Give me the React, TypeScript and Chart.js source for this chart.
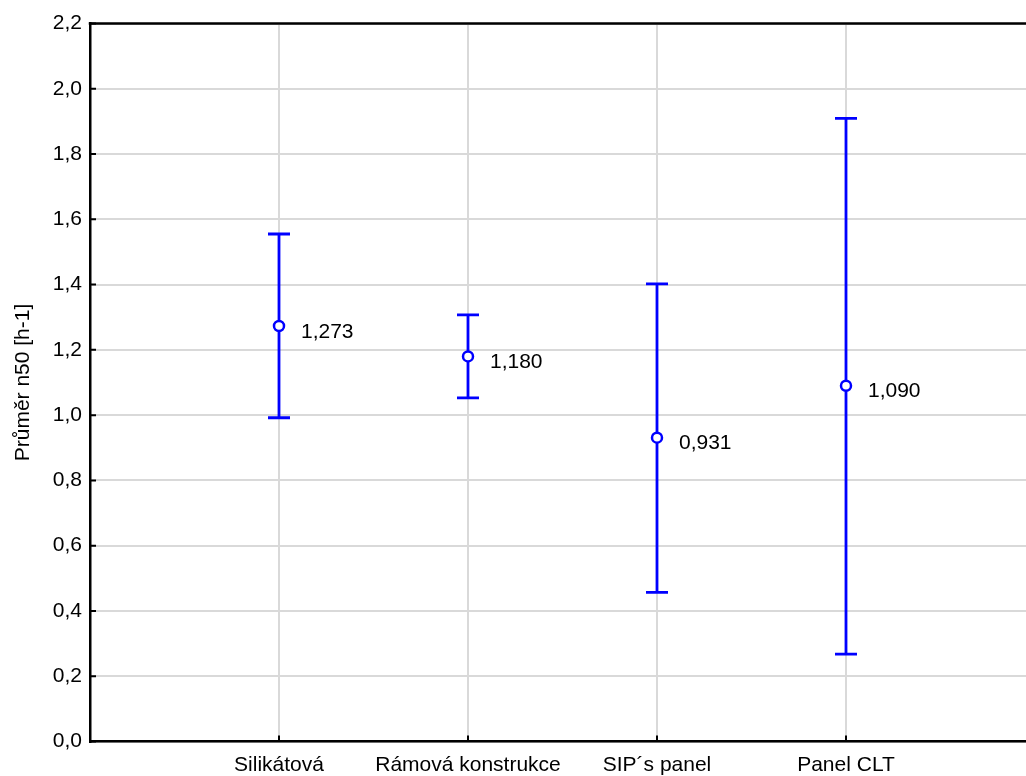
import React, { useEffect, useRef } from "react";
import { Chart, registerables } from "chart.js";

Chart.register(...registerables);

// ---- data ----
const categories = ["Silikátová", "Rámová konstrukce", "SIP´s panel", "Panel CLT"];
const means = [1.273, 1.18, 0.931, 1.09];
const lowerBounds = [0.992, 1.053, 0.457, 0.268];
const upperBounds = [1.555, 1.307, 1.402, 1.909];
const meanLabels = ["1,273", "1,180", "0,931", "1,090"];
const yTickValues = [0, 0.2, 0.4, 0.6, 0.8, 1.0, 1.2, 1.4, 1.6, 1.8, 2.0, 2.2];
const yTickLabels = ["0,0", "0,2", "0,4", "0,6", "0,8", "1,0", "1,2", "1,4", "1,6", "1,8", "2,0", "2,2"];
const yAxisTitle = "Průměr n50 [h-1]";

const BLUE = "#0000ff";
const FONT = "'Liberation Sans', Arial, sans-serif";

const overlayPlugin = {
  id: "overlay",
  beforeDatasetsDraw(chart: any) {
    const ctx = chart.ctx;
    const x = chart.scales.x;
    const y = chart.scales.y;
    ctx.save();
    ctx.strokeStyle = BLUE;
    ctx.lineWidth = 2.8;
    for (let i = 0; i < categories.length; i++) {
      const px = x.getPixelForValue(i + 1);
      const pLo = y.getPixelForValue(lowerBounds[i]);
      const pHi = y.getPixelForValue(upperBounds[i]);
      ctx.beginPath();
      ctx.moveTo(px, pLo);
      ctx.lineTo(px, pHi);
      ctx.moveTo(px - 11, pLo);
      ctx.lineTo(px + 11, pLo);
      ctx.moveTo(px - 11, pHi);
      ctx.lineTo(px + 11, pHi);
      ctx.stroke();
    }
    ctx.restore();
  },
  afterDatasetsDraw(chart: any) {
    const ctx = chart.ctx;
    const meta = chart.getDatasetMeta(0);
    ctx.save();
    ctx.fillStyle = "#000";
    ctx.font = "21px " + FONT;
    ctx.textAlign = "left";
    ctx.textBaseline = "alphabetic";
    meta.data.forEach((el: any, i: number) => {
      ctx.fillText(meanLabels[i], el.x + 22, el.y + 11.5);
    });
    ctx.restore();
  },
  afterDraw(chart: any) {
    const ctx = chart.ctx;
    const { left, right, top, bottom } = chart.chartArea;
    const x = chart.scales.x;
    const y = chart.scales.y;
    ctx.save();
    ctx.strokeStyle = "#000";
    ctx.lineWidth = 2.5;
    ctx.beginPath();
    ctx.moveTo(left - 1.25, top);
    ctx.lineTo(right, top);
    ctx.stroke();
    ctx.lineWidth = 2;
    ctx.beginPath();
    yTickValues.forEach((v) => {
      const py = y.getPixelForValue(v);
      ctx.moveTo(left, py);
      ctx.lineTo(left + 6, py);
    });
    categories.forEach((_, i) => {
      const px = x.getPixelForValue(i + 1);
      ctx.moveTo(px, bottom);
      ctx.lineTo(px, bottom - 6);
    });
    ctx.stroke();
    ctx.restore();
  },
};

export default function App() {
  const ref = useRef<HTMLCanvasElement | null>(null);

  useEffect(() => {
    if (!ref.current) return;
    Chart.defaults.font.family = FONT;
    Chart.defaults.color = "#000";
    const chart = new Chart(ref.current, {
      type: "scatter",
      data: {
        datasets: [
          {
            data: means.map((m, i) => ({ x: i + 1, y: m })),
            borderColor: BLUE,
            backgroundColor: "#ffffff",
            pointRadius: 5,
            pointBorderWidth: 2.5,
            pointHoverRadius: 5,
            showLine: false,
          },
        ],
      },
      options: {
        responsive: false,
        animation: false,
        events: [],
        layout: { autoPadding: false, padding: { top: 23.5, left: 0, right: 0, bottom: 0 } },
        plugins: {
          legend: { display: false },
          tooltip: { enabled: false },
        },
        scales: {
          x: {
            type: "linear",
            min: 0,
            max: 936 / 189,
            afterBuildTicks: (scale: any) => {
              scale.ticks = categories.map((_, i) => ({ value: i + 1 }));
            },
            afterFit: (scale: any) => {
              scale.height = 34.5;
            },
            grid: { color: "#d9d9d9", lineWidth: 2, drawTicks: false },
            border: { color: "#000", width: 2.5 },
            ticks: {
              autoSkip: false,
              maxRotation: 0,
              padding: 11,
              font: { size: 21 },
              color: "#000",
              callback: (v: any) => categories[Math.round(Number(v)) - 1] ?? "",
            },
          },
          y: {
            type: "linear",
            min: 0,
            max: 2.2,
            afterBuildTicks: (scale: any) => {
              scale.ticks = yTickValues.map((v) => ({ value: v }));
            },
            afterFit: (scale: any) => {
              scale.width = 90;
            },
            grid: { color: "#d9d9d9", lineWidth: 2, drawTicks: false },
            border: { color: "#000", width: 2.5 },
            ticks: {
              padding: 8,
              font: { size: 21 },
              color: "#000",
              callback: (v: any) => {
                const idx = yTickValues.findIndex((t) => Math.abs(t - Number(v)) < 1e-6);
                return idx >= 0 ? yTickLabels[idx] : "";
              },
            },
            title: {
              display: true,
              text: yAxisTitle,
              font: { size: 21 },
              color: "#000",
              padding: { top: 11, bottom: 0 },
            },
          },
        },
      },
      plugins: [overlayPlugin],
    } as any);
    return () => chart.destroy();
  }, []);

  return (
    <div style={{ position: "fixed", left: 0, top: 0, width: 1026, height: 776, background: "#fff", overflow: "hidden" }}>
      <canvas ref={ref} width={1026} height={776} style={{ display: "block" }} />
    </div>
  );
}
